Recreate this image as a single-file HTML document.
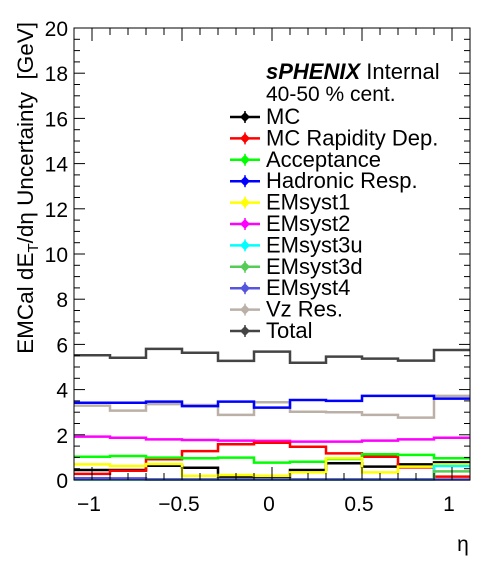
<!DOCTYPE html>
<html><head><meta charset="utf-8"><style>
body{margin:0;background:#fff;}
svg{display:block;font-family:"Liberation Sans",sans-serif;}
</style></head><body>
<svg id="chart" width="496" height="572" xmlns="http://www.w3.org/2000/svg">
<g id="marks"></g>
<g id="axes"></g>
<g id="legend"></g>
</svg>
<script>
const binEdges=[-1.1,-0.9,-0.7,-0.5,-0.3,-0.1,0.1,0.3,0.5,0.7,0.9,1.1];
const mcVals=[0.44,0.44,0.63,0.54,0.15,0.15,0.44,0.74,0.59,0.69,0.78];
const rapVals=[0.27,0.41,0.92,1.28,1.58,1.65,1.47,1.18,1.03,0.56,0.15];
const accVals=[1.03,1.06,0.99,0.96,0.99,0.77,0.81,0.93,1.14,1.11,0.96];
const hadVals=[3.42,3.42,3.47,3.27,3.47,3.20,3.54,3.50,3.72,3.72,3.60];
const em1Vals=[0.69,0.62,0.71,0.18,0.22,0.19,0.34,0.96,0.34,0.59,0.69];
const em2Vals=[1.92,1.87,1.80,1.77,1.74,1.73,1.70,1.70,1.74,1.80,1.87];
const em3uVals=[0.02,0.02,0.02,0.02,0.02,0.02,0.02,0.02,0.02,0.02,0.62];
const em3dVals=[0.03,0.03,0.03,0.03,0.03,0.03,0.03,0.03,0.03,0.03,0.38];
const em4Vals=[0.08,0.07,0.02,0.02,0.02,0.02,0.02,0.02,0.02,0.02,0.02];
const vzVals=[3.29,3.07,3.36,3.32,2.88,3.44,3.02,3.00,2.88,2.76,3.72];
const totVals=[5.52,5.41,5.80,5.63,5.27,5.68,5.19,5.46,5.37,5.28,5.75];
const seriesNames=["MC","MC Rapidity Dep.","Acceptance","Hadronic Resp.","EMsyst1","EMsyst2","EMsyst3u","EMsyst3d","EMsyst4","Vz Res.","Total"];
const yTicks=[0,2,4,6,8,10,12,14,16,18,20];
const xTicks=[-1,-0.5,0,0.5,1];
const xTickLabels=["\u22121","\u22120.5","0","0.5","1"];

const series=[mcVals,rapVals,accVals,hadVals,em1Vals,em2Vals,em3uVals,em3dVals,em4Vals,vzVals,totVals];
const colors=["#000","#ff0000","#00ff00","#0000ff","#ffff00","#ff00ff","#00ffff","#55cc55","#5555dd","#bbb0a8","#444"];
const L=74,R=470,T=28,B=480;
const xs=v=>L+(v+1.1)/2.2*(R-L);
const ys=v=>B-v/20*(B-T);
const NS="http://www.w3.org/2000/svg";
function mk(tag,attrs,parent){const e=document.createElementNS(NS,tag);for(const k in attrs)e.setAttribute(k,attrs[k]);parent.appendChild(e);return e;}
const marks=document.getElementById('marks'),axes=document.getElementById('axes'),leg=document.getElementById('legend');
const order=[9,3,5,0,1,2,4,6,7,8,10];
order.forEach(si=>{
  const v=series[si];let d="";
  for(let i=0;i<v.length;i++){const x0=xs(binEdges[i]),x1=xs(binEdges[i+1]),y=ys(v[i]);d+=(i===0?"M":"L")+x0+","+y+"L"+x1+","+y;}
  const p=mk('path',{d:d,fill:"none",stroke:colors[si],"stroke-width":2.5},marks);
  
  
});
const fr=mk('rect',{x:L,y:T,width:R-L,height:B-T,fill:"none",stroke:"#000","stroke-width":1},axes);


for(let v=0;v<=20.001;v+=0.5){const y=ys(v);const maj=Math.abs(v%2)<1e-6;const len=maj?11:6;
  mk('line',{x1:L,x2:L+len,y1:y,y2:y,stroke:"#000"},axes);mk('line',{x1:R,x2:R-len,y1:y,y2:y,stroke:"#000"},axes);}
yTicks.forEach(v=>{const t=mk('text',{x:L-6,y:ys(v)+8,"text-anchor":"end","font-size":21},axes);t.textContent=v;
  
  });
for(let k=-11;k<=11;k++){const v=k/10;const x=xs(v);const maj=(k%5===0);const len=maj?13:7;
  mk('line',{x1:x,x2:x,y1:B,y2:B-len,stroke:"#000"},axes);mk('line',{x1:x,x2:x,y1:T,y2:T+len,stroke:"#000"},axes);}
xTicks.forEach((v,i)=>{const t=mk('text',{x:xs(v)-3,y:511,"text-anchor":"middle","font-size":21},axes);t.textContent=xTickLabels[i];
  
  });
const xt=mk('text',{x:463,y:551,"text-anchor":"middle","font-size":21},axes);xt.textContent="η";


const yt=mk('text',{x:0,y:0,"text-anchor":"end","font-size":22.5,transform:"translate(33,22) rotate(-90)"},axes);
yt.innerHTML='EMCal dE<tspan font-size="15" dy="5">T</tspan><tspan dy="-5">/dη Uncertainty\u00a0\u00a0[GeV]</tspan>';


const h1=mk('text',{x:266,y:79,"font-size":22},leg);h1.innerHTML='<tspan font-weight="bold" font-style="italic">sPHENIX</tspan> Internal';


const h2=mk('text',{x:266,y:101,"font-size":21},leg);h2.textContent='40-50 % cent.';


seriesNames.forEach((n,i)=>{const y=117+i*21.4;
  const g=mk('g',{},leg);
  
  
  mk('line',{x1:230,x2:260,y1:y,y2:y,stroke:colors[i],"stroke-width":2.5},g);
  mk('line',{x1:245,x2:245,y1:y-6,y2:y+6,stroke:colors[i],"stroke-width":1.5},g);
  mk('path',{d:`M245,${y-5}L250,${y}L245,${y+5}L240,${y}Z`,fill:colors[i]},g);
  const t=mk('text',{x:266,y:y+7,"font-size":22},g);t.textContent=n;});
</script>
</body></html>
